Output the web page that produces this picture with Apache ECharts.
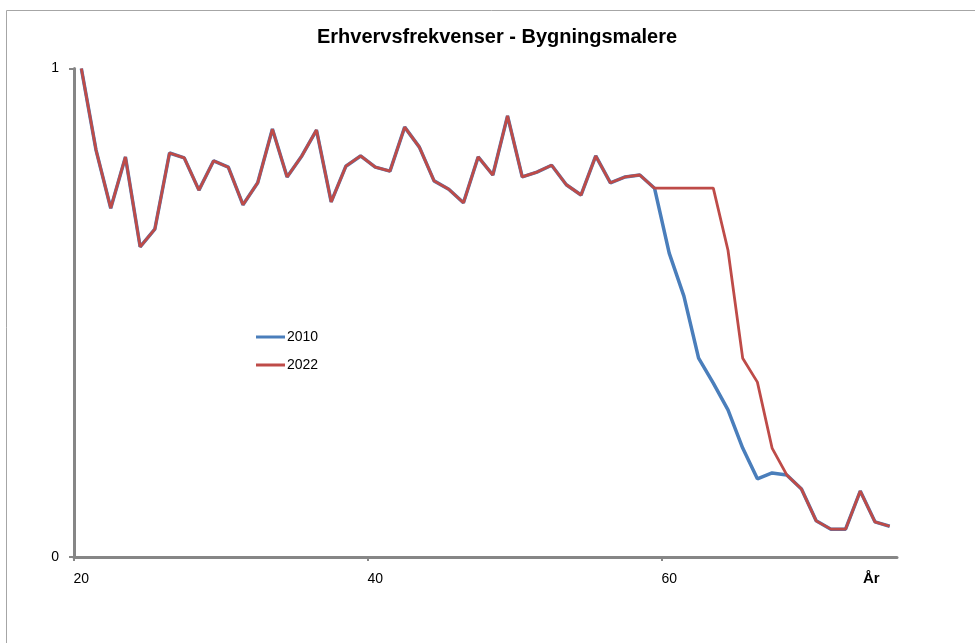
<!DOCTYPE html>
<html>
<head>
<meta charset="utf-8">
<script src="https://cdn.jsdelivr.net/npm/echarts@6/dist/echarts.min.js"></script>
<style>html,body{margin:0;padding:0;background:#fff}#c{width:975px;height:643px}</style>
</head>
<body>
<div id="c"></div>
<script>
const titleText = 'Erhvervsfrekvenser - Bygningsmalere';
const ages = [20,21,22,23,24,25,26,27,28,29,30,31,32,33,34,35,36,37,38,39,40,41,42,43,44,45,46,47,48,49,50,51,52,53,54,55,56,57,58,59,60,61,62,63,64,65,66,67,68,69,70,71,72,73,74,75];
const values2010 = [1.000,0.833,0.714,0.819,0.635,0.671,0.827,0.817,0.751,0.811,0.798,0.721,0.766,0.876,0.778,0.821,0.874,0.727,0.800,0.821,
  0.798,0.790,0.880,0.839,0.770,0.753,0.725,0.819,0.782,0.903,0.778,0.788,0.802,0.762,0.741,0.821,0.766,0.778,0.782,0.755,
  0.622,0.534,0.407,0.356,0.301,0.223,0.160,0.172,0.168,0.139,0.074,0.057,0.057,0.135,0.072,0.063];
const values2022 = [1.000,0.833,0.714,0.819,0.635,0.671,0.827,0.817,0.751,0.811,0.798,0.721,0.766,0.876,0.778,0.821,0.874,0.727,0.800,0.821,
  0.798,0.790,0.880,0.839,0.770,0.753,0.725,0.819,0.782,0.903,0.778,0.788,0.802,0.762,0.741,0.821,0.766,0.778,0.782,0.755,
  0.755,0.755,0.755,0.755,0.628,0.407,0.358,0.223,0.168,0.139,0.074,0.057,0.057,0.135,0.072,0.063];
const seriesNames = ['2010','2022'];
const xTicks = [20,40,60];
const yTicks = [0,1];
const xName = 'År';

const font = 'Liberation Sans, Arial, sans-serif';
const toPts = v => v.map((y,i) => [ages[i] + 0.5, y]);

const chart = echarts.init(document.getElementById('c'), null, {renderer:'canvas'});
chart.setOption({
  animation:false,
  backgroundColor:'#fff',
  title:{text:titleText,left:492,textAlign:'center',top:22,
    textStyle:{fontFamily:font,fontWeight:'bold',fontSize:20,color:'#000'}},
  legend:{orient:'vertical',left:251,top:325,itemWidth:29,itemHeight:3,itemGap:14,icon:'rect',
    data:seriesNames,textStyle:{fontFamily:font,fontSize:14,color:'#000',padding:[0,0,0,-3]}},
  grid:{left:74,right:78,top:68.5,bottom:86,containLabel:false},
  xAxis:{type:'value',min:20,max:76,interval:20,
    axisLine:{lineStyle:{color:'#868686',width:3}},
    axisTick:{show:true,length:4,lineStyle:{color:'#868686',width:2},customValues:xTicks},
    axisLabel:{customValues:xTicks.map(t => t + 0.5),formatter:v => String(Math.floor(v)),
      fontFamily:font,fontSize:14,color:'#000',margin:15},
    splitLine:{show:false}},
  yAxis:{type:'value',min:0,max:1,interval:1,
    axisLine:{show:true,lineStyle:{color:'#868686',width:3}},
    axisTick:{show:true,length:5,lineStyle:{color:'#868686',width:2},customValues:yTicks},
    axisLabel:{customValues:yTicks,fontFamily:font,fontSize:14,color:'#000',margin:15},
    splitLine:{show:false}},
  graphic:[
    {type:'rect',shape:{x:6.5,y:10.5,width:1200,height:1200},style:{fill:'none',stroke:'#a6a6a6',lineWidth:1},silent:true,z:-1},
    {type:'text',left:863,top:571,style:{text:xName,font:'bold 15px '+font,fill:'#000'}}
  ],
  series:[
    {name:seriesNames[0],type:'line',data:toPts(values2010),symbol:'none',
      lineStyle:{color:'#4A7EBB',width:3.5},itemStyle:{color:'#4A7EBB'},z:2},
    {name:seriesNames[1],type:'line',data:toPts(values2022),symbol:'none',
      lineStyle:{color:'#BE4B48',width:2.8},itemStyle:{color:'#BE4B48'},z:3}
  ]
});
</script>
</body>
</html>
